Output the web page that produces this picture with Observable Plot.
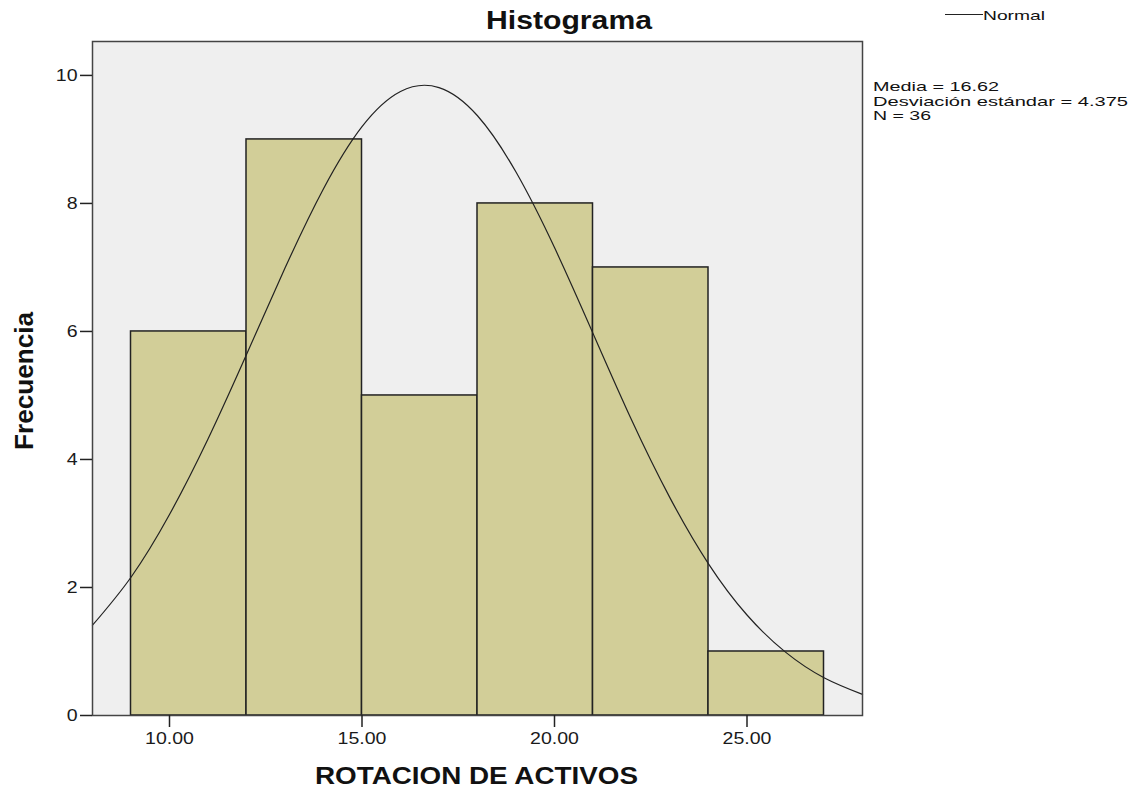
<!DOCTYPE html>
<html>
<head>
<meta charset="utf-8">
<script src="https://cdn.jsdelivr.net/npm/d3@7"></script>
<script src="https://cdn.jsdelivr.net/npm/@observablehq/plot@0.6"></script>
<style>
  html, body { margin: 0; padding: 0; background: #fff; }
  #chart { position: relative; width: 1142px; height: 789px; }
  svg text { font-family: Arial, "Liberation Sans", sans-serif; }
  svg g[aria-label$="tick label"] text { font-size: 16px; fill: #1a1a1a; }
</style>
</head>
<body>
<div id="chart"></div>
<script>
// Histogram bins (ROTACION DE ACTIVOS) and frequencies
const binStart = [9, 12, 15, 18, 21, 24];
const binEnd   = [12, 15, 18, 21, 24, 27];
const counts   = [6, 9, 5, 8, 7, 1];

// Normal curve points
const curveX = [8, 9, 10, 11, 12, 13, 14, 15, 16, 17, 18, 19, 20, 21, 22, 23, 24, 25, 26, 27, 28];
const curveY = [1.41, 2.16, 3.14, 4.32, 5.64, 6.99, 8.23, 9.20, 9.75, 9.81, 9.37, 8.49, 7.31, 5.97, 4.62, 3.40, 2.37, 1.57, 0.99, 0.59, 0.33];

const xTicks = [10, 15, 20, 25];
const yTicks = [0, 2, 4, 6, 8, 10];

const title = "Histograma";
const xLabel = "ROTACION DE ACTIVOS";
const yLabel = "Frecuencia";
const legendLabel = "Normal";
const statsLines = ["Media = 16.62", "Desviación estándar = 4.375", "N = 36"];

const bins = binStart.map((s, i) => ({x1: s, x2: binEnd[i], y: counts[i]}));
const curve = curveX.map((x, i) => ({x, y: curveY[i]}));

const W = 1142, H = 789;
const mL = 92, mR = W - 862, mT = 41, mB = H - 715;

const chart = Plot.plot({
  width: W,
  height: H,
  marginLeft: mL,
  marginRight: mR,
  marginTop: mT,
  marginBottom: mB,
  style: {fontFamily: "Arial, 'Liberation Sans', sans-serif", fontSize: "16px", color: "#1a1a1a", background: "#fff"},
  x: {domain: [8, 28], label: null},
  y: {domain: [0, 10.53], label: null},
  marks: [
    Plot.frame({fill: "#efefef", stroke: null}),
    Plot.rectY(bins, {x1: "x1", x2: "x2", y: "y", fill: "#d2ce98", stroke: "#222", strokeWidth: 1.5}),
    Plot.line(curve, {x: "x", y: "y", curve: "natural", stroke: "#222", strokeWidth: 1.2}),
    Plot.frame({stroke: "#444", strokeWidth: 1.5}),
    Plot.axisX({ticks: xTicks, tickFormat: d => d.toFixed(2), tickSize: 12, tickPadding: 5, stroke: "#222", strokeWidth: 1.5}),
    Plot.axisY({ticks: yTicks, tickSize: 12, tickPadding: 3, stroke: "#222", strokeWidth: 1.5})
  ]
});

document.getElementById("chart").appendChild(chart);

const svg = d3.select(chart);
const font = "Arial, 'Liberation Sans', sans-serif";

// Reference text is horizontally stretched; widen tick labels accordingly
svg.selectAll('g[aria-label$="tick label"] text').each(function() {
  const w = this.getComputedTextLength();
  d3.select(this).attr("textLength", w * 1.22).attr("lengthAdjust", "spacingAndGlyphs");
});

function addText(x, y, str, size, weight, anchor, width) {
  const t = svg.append("text")
    .attr("x", x).attr("y", y)
    .attr("text-anchor", anchor)
    .attr("font-family", font).attr("font-size", size).attr("font-weight", weight).attr("fill", "#111")
    .text(str);
  if (width) t.attr("textLength", width).attr("lengthAdjust", "spacingAndGlyphs");
  return t;
}

addText(569, 29, title, 26, "bold", "middle", 166);
addText(476.5, 784, xLabel, 24, "bold", "middle", 323);

svg.append("text")
  .attr("transform", "translate(33,381) rotate(-90)")
  .attr("text-anchor", "middle")
  .attr("font-family", font).attr("font-size", 25).attr("font-weight", "bold").attr("fill", "#111")
  .attr("textLength", 138).attr("lengthAdjust", "spacingAndGlyphs")
  .text(yLabel);

// Legend
svg.append("line")
  .attr("x1", 945).attr("x2", 983).attr("y1", 14.5).attr("y2", 14.5)
  .attr("stroke", "#222").attr("stroke-width", 1.2);
addText(983, 19.5, legendLabel, 13.5, "normal", "start", 62);

// Stats
const statsWidths = [126, 255, 58];
statsLines.forEach((t, i) => {
  addText(873, 91 + i * 14.5, t, 13, "normal", "start", statsWidths[i]);
});
</script>
</body>
</html>
